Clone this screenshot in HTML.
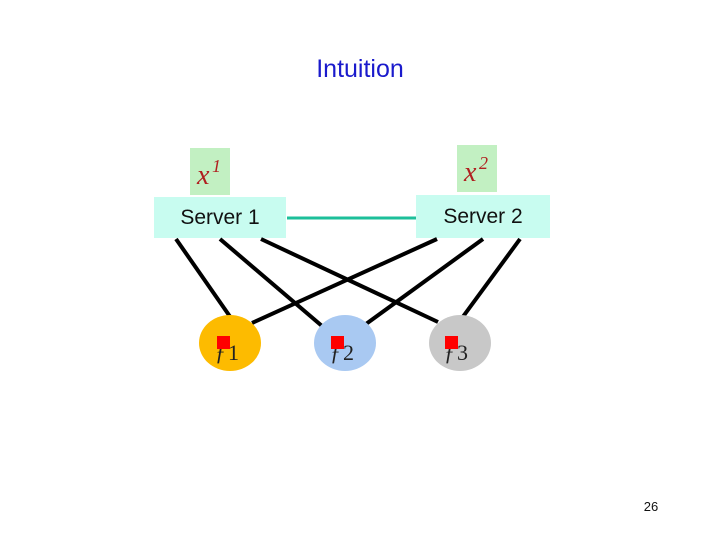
<!DOCTYPE html>
<html><head><style>
body{margin:0;width:720px;height:540px;background:#fff;position:relative;overflow:hidden;font-family:"Liberation Sans",sans-serif}
.t{position:absolute}
</style></head><body>
<div class="t" style="left:0;width:720px;top:55px;text-align:center;font-size:25px;color:#1a1acc">Intuition</div>
<svg width="720" height="540" style="position:absolute;left:0;top:0">
<rect x="190" y="148" width="40" height="47" fill="#c2f0c2"/>
<rect x="457" y="145" width="40" height="47" fill="#c2f0c2"/>
<rect x="154" y="197" width="132" height="41" fill="#c8fcf0"/>
<rect x="416" y="195" width="134" height="43" fill="#c8fcf0"/>
<line x1="287" y1="218" x2="416" y2="218" stroke="#1dbf9a" stroke-width="3"/>
<g stroke="#000" stroke-width="4">
<line x1="176" y1="239" x2="231" y2="318"/>
<line x1="220" y1="239" x2="322" y2="326"/>
<line x1="261" y1="239" x2="438" y2="322"/>
<line x1="437" y1="239" x2="252" y2="323"/>
<line x1="483" y1="239" x2="366" y2="324"/>
<line x1="520" y1="239" x2="462" y2="318"/>
</g>
<ellipse cx="230" cy="343" rx="31" ry="28" fill="#fdbb00"/>
<ellipse cx="345" cy="343" rx="31" ry="28" fill="#a9c9f2"/>
<ellipse cx="460" cy="343" rx="31" ry="28" fill="#c8c8c8"/>
<g font-family="Liberation Serif,serif" font-size="22" font-style="italic" fill="#222">
<text x="215" y="360">ƒ</text><text x="228" y="360" font-style="normal">1</text>
<text x="330" y="360">ƒ</text><text x="343" y="360" font-style="normal">2</text>
<text x="444" y="360">ƒ</text><text x="457" y="360" font-style="normal">3</text>
</g>
<rect x="217" y="336" width="13" height="13" fill="#f00"/>
<rect x="331" y="336" width="13" height="13" fill="#f00"/>
<rect x="445" y="336" width="13" height="13" fill="#f00"/>
<g font-family="Liberation Serif,serif" font-style="italic" fill="#b02020">
<text x="197" y="184" font-size="28">x</text><text x="212" y="172" font-size="18">1</text>
<text x="464" y="181" font-size="28">x</text><text x="479" y="169" font-size="18">2</text>
</g>
<text x="220" y="224" font-size="21" text-anchor="middle" fill="#111">Server 1</text>
<text x="483" y="223" font-size="21" text-anchor="middle" fill="#111">Server 2</text>
<text x="651" y="511" font-size="13" text-anchor="middle" fill="#111">26</text>
</svg>
</body></html>
